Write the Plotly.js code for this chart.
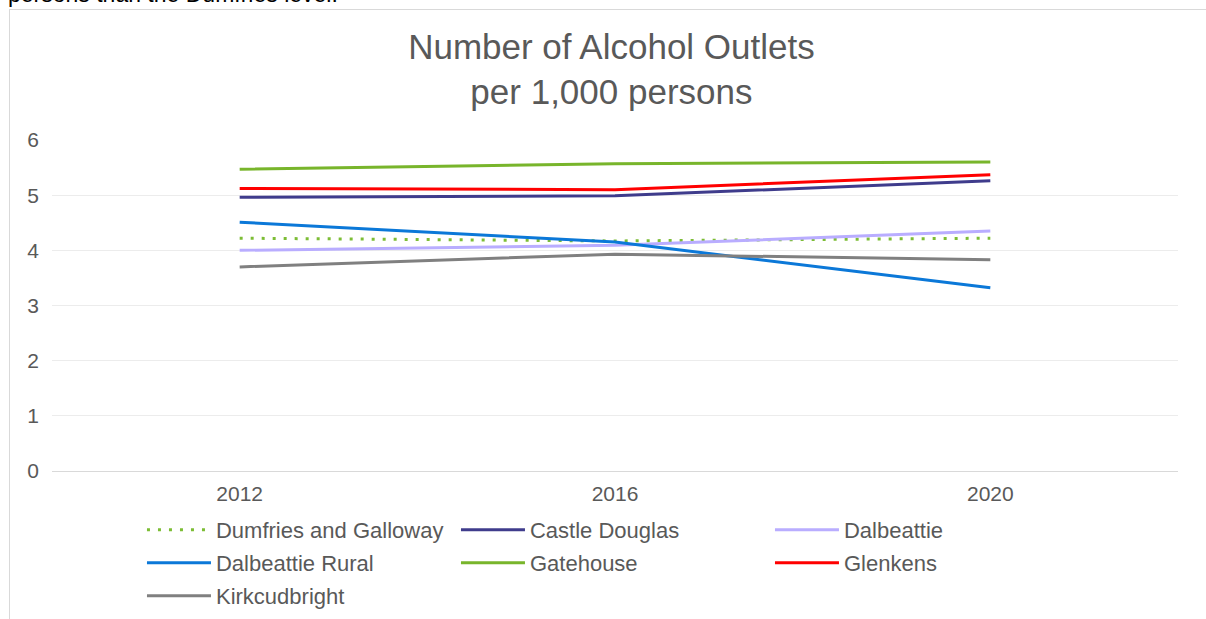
<!DOCTYPE html>
<html>
<head>
<meta charset="utf-8">
<script src="https://cdn.plot.ly/plotly-3.0.1.min.js"></script>
<style>
  html, body { margin: 0; padding: 0; background: #ffffff; overflow: hidden; }
  #lead { position: absolute; left: 8px; top: -19px; font-family: "Liberation Sans", Arial, sans-serif; font-size: 23px; line-height: 26px; color: #000; white-space: nowrap; }
  #frame { position: absolute; left: 9px; top: 9px; width: 1210px; height: 620px; border: 1px solid #d9d9d9; box-sizing: border-box; }
  #chart { position: absolute; left: 0; top: 0; width: 1206px; height: 619px; }
</style>
</head>
<body>
<div id="lead">persons than the Dumfries level.</div>
<div id="frame"></div>
<div id="chart"></div>
<script>
const years = ['2012', '2016', '2020'];
const dumfriesGalloway = [4.22, 4.17, 4.22];
const castleDouglas = [4.96, 4.99, 5.26];
const dalbeattie = [4.00, 4.09, 4.35];
const dalbeattieRural = [4.51, 4.15, 3.32];
const gatehouse = [5.47, 5.57, 5.60];
const glenkens = [5.12, 5.10, 5.37];
const kirkcudbright = [3.70, 3.93, 3.83];

function tr(name, y, color, legend, dash) {
  return {
    type: 'scatter', mode: 'lines', name: name, x: years, y: y,
    line: { color: color, width: 3, dash: dash || 'solid' },
    legend: legend, hoverinfo: 'x+y+name'
  };
}

const data = [
  tr('Dumfries and Galloway', dumfriesGalloway, '#7cbd35', 'legend', '3px,8px'),
  tr('Castle Douglas', castleDouglas, '#3f3c8c', 'legend'),
  tr('Dalbeattie', dalbeattie, '#b9adff', 'legend'),
  tr('Dalbeattie Rural', dalbeattieRural, '#0b78d8', 'legend2'),
  tr('Gatehouse', gatehouse, '#78b52b', 'legend2'),
  tr('Glenkens', glenkens, '#ff0000', 'legend2'),
  tr('Kirkcudbright', kirkcudbright, '#808080', 'legend3')
];

const FONT = '"Liberation Sans", Arial, sans-serif';
const legFont = { family: FONT, size: 22, color: '#595959' };
function leg(yy) {
  return {
    orientation: 'h', x: 0.0799, xanchor: 'left', y: yy, yanchor: 'middle',
    xref: 'paper', yref: 'container', entrywidth: 235, entrywidthmode: 'pixels',
    font: legFont, bgcolor: 'rgba(0,0,0,0)', itemwidth: 64, traceorder: 'normal'
  };
}

const layout = {
  width: 1206, height: 619,
  paper_bgcolor: 'rgba(0,0,0,0)', plot_bgcolor: 'rgba(0,0,0,0)',
  margin: { l: 52, r: 28, t: 140, b: 148 },
  font: { family: FONT, color: '#595959' },
  title: {
    text: 'Number of Alcohol Outlets<br>per 1,000 persons',
    font: { size: 35, color: '#595959', family: FONT },
    x: 0.507, xanchor: 'center', y: 0.905, yanchor: 'middle', yref: 'container'
  },
  xaxis: {
    type: 'category', categoryarray: years, categoryorder: 'array', range: [-0.5, 2.5],
    showgrid: false, zeroline: false, showline: false, ticks: '',
    tickfont: { size: 21, color: '#595959' }, ticklabelstandoff: 8
  },
  yaxis: {
    range: [0, 6], dtick: 1, tick0: 0, showgrid: true, gridcolor: '#ececec', gridwidth: 1,
    zeroline: true, zerolinecolor: '#d9d9d9', zerolinewidth: 1,
    showline: false, ticks: '', tickfont: { size: 21, color: '#595959' }, ticklabelstandoff: 12
  },
  showlegend: true,
  legend: leg(0.1438),
  legend2: leg(0.0905),
  legend3: leg(0.0372)
};

Plotly.newPlot('chart', data, layout, { displayModeBar: false, staticPlot: true });
</script>
</body>
</html>
